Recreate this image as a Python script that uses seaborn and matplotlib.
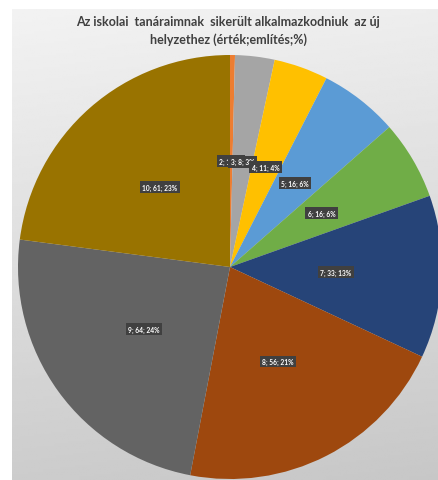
import numpy as np
import matplotlib
matplotlib.use("Agg")
import matplotlib.pyplot as plt
import seaborn as sns

# --- DATA (érték; említés; %) ---
categories = ["1", "2", "3", "4", "5", "6", "7", "8", "9", "10"]
values = [0, 1, 8, 11, 16, 16, 33, 56, 64, 61]
percents = [0, 0, 3, 4, 6, 6, 13, 21, 24, 23]
colors = ["#4472C4", "#ED7D31", "#A5A5A5", "#FFC000", "#5B9BD5", "#70AD47",
          "#264478", "#9E480E", "#636363", "#997300"]
title = "Az iskolai  tanáraimnak  sikerült alkalmazkodniuk  az új\nhelyzethez (érték;említés;%)"

sns.set_theme(style="white")
plt.rcParams['font.family'] = ['Lato', 'DejaVu Sans']

W, H = 438, 481
fig = plt.figure(figsize=(W / 100, H / 100), dpi=100)
fig.patch.set_facecolor("white")

# chart area with soft gray gradient
bg = fig.add_axes([12 / W, 0, (W - 12) / W, (H - 10) / H])
yy = np.linspace(0, 1, 200)[:, None]
xx = np.linspace(0, 1, 200)[None, :]
grad = 0.95 - 0.15 * yy - 0.02 * xx
bg.imshow(grad, cmap="gray", vmin=0, vmax=1, aspect="auto", extent=[0, 1, 1, 0])
bg.set_axis_off()

# keep only non-zero slices
keep = [i for i, v in enumerate(values) if v > 0]
vals = [values[i] for i in keep]
cols = [colors[i] for i in keep]
labels = [f"{categories[i]}; {values[i]}; {percents[i]}%" for i in keep]

cx, cy, r = 230, 268, 212
ax = fig.add_axes([(cx - r) / W, (H - cy - r) / H, 2 * r / W, 2 * r / H])
wedges, _ = ax.pie(vals, colors=cols, startangle=90, counterclock=False,
                   radius=1.0, wedgeprops=dict(linewidth=0))
ax.set_xlim(-1, 1)
ax.set_ylim(-1, 1)
ax.set_aspect("equal")
ax.set_axis_off()

for w, lab in zip(wedges, labels):
    ang = np.deg2rad((w.theta1 + w.theta2) / 2)
    d = 0.5
    ax.text(d * np.cos(ang), d * np.sin(ang), lab, ha="center", va="center",
            fontsize=4.8, color="white", fontweight="bold",
            bbox=dict(boxstyle="square,pad=0.35", facecolor="#404040",
                      edgecolor="none"))

fig.text(228 / W, 1 - 31 / H, title, ha="center", va="center", fontsize=9,
         fontweight="bold", color="#404040", linespacing=1.5)

fig.savefig("out.png", dpi=100)
